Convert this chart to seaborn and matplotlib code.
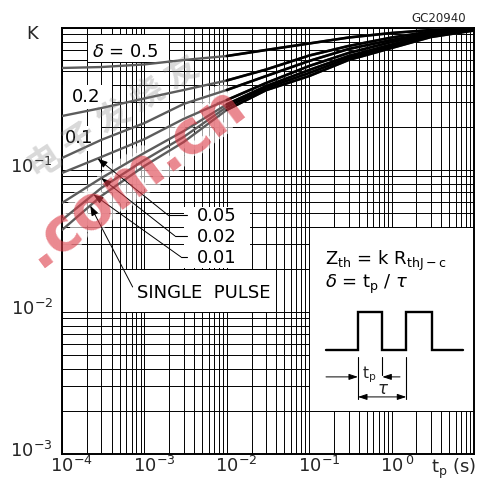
import numpy as np
import pandas as pd
import matplotlib
matplotlib.use("Agg")
import matplotlib.pyplot as plt
import matplotlib.patheffects as pe
from matplotlib.patches import Rectangle
from matplotlib.ticker import LogLocator, NullFormatter
import seaborn as sns

# Pulse duration t_p (s)
t_p = [1e-4, 3e-4, 1e-3, 3e-3, 1e-2, 3e-2, 1e-1, 3e-1, 1.0, 3.0, 10.0]

# K = Zth / RthJ-c for each duty cycle delta
k_delta_05 = [0.523, 0.531, 0.554, 0.595, 0.635, 0.700, 0.778, 0.857, 0.922, 0.968, 1.000]
k_delta_02 = [0.240, 0.273, 0.319, 0.366, 0.427, 0.510, 0.640, 0.747, 0.857, 0.945, 0.990]
k_delta_01 = [0.1215, 0.163, 0.214, 0.292, 0.366, 0.459, 0.586, 0.711, 0.823, 0.922, 0.984]
k_delta_005 = [0.0953, 0.1235, 0.165, 0.229, 0.311, 0.410, 0.540, 0.667, 0.797, 0.907, 0.984]
k_delta_002 = [0.0586, 0.0878, 0.132, 0.188, 0.290, 0.390, 0.506, 0.635, 0.765, 0.893, 0.976]
k_delta_001 = [0.0445, 0.0747, 0.1175, 0.171, 0.278, 0.378, 0.482, 0.615, 0.747, 0.878, 0.968]
k_single = [0.0378, 0.0656, 0.1067, 0.1575, 0.265, 0.365, 0.459, 0.595, 0.723, 0.864, 0.960]

curve_names = ["0.5", "0.2", "0.1", "0.05", "0.02", "0.01", "SINGLE PULSE"]
curve_values = [k_delta_05, k_delta_02, k_delta_01, k_delta_005,
                k_delta_002, k_delta_001, k_single]

x_tick_values = [1e-4, 1e-3, 1e-2, 1e-1, 1e0]
x_tick_labels = [r"$\mathregular{10^{-4}}$", r"$\mathregular{10^{-3}}$",
                 r"$\mathregular{10^{-2}}$", r"$\mathregular{10^{-1}}$",
                 r"$\mathregular{10^{\,0}}$"]
y_tick_values = [1e-3, 1e-2, 1e-1]
y_tick_labels = [r"$\mathregular{10^{-3}}$", r"$\mathregular{10^{-2}}$",
                 r"$\mathregular{10^{-1}}$"]

sns.set_theme(style="white")
plt.rcParams["font.family"] = ["DejaVu Sans"]
plt.rcParams["mathtext.fontset"] = "dejavusans"

df = pd.DataFrame({
    "t": np.tile(t_p, len(curve_names)),
    "K": np.concatenate(curve_values),
    "curve": np.repeat(curve_names, len(t_p)),
})

W, H = 486, 484
fig = plt.figure(figsize=(W / 100, H / 100), dpi=100)
fig.patch.set_facecolor("white")
ax = fig.add_axes([62 / W, 30 / H, 412 / W, 426 / H])
ax.set_xscale("log")
ax.set_yscale("log")
ax.set_xlim(1e-4, 10)
ax.set_ylim(1e-3, 1)

# full log grid, decades and 2..9 subdivisions
for axis in (ax.xaxis, ax.yaxis):
    axis.set_major_locator(LogLocator(base=10, numticks=20))
    axis.set_minor_locator(LogLocator(base=10, subs=np.arange(2, 10), numticks=100))
    axis.set_minor_formatter(NullFormatter())
ax.set_axisbelow(True)
ax.grid(which="both", color="black", lw=0.7)
ax.tick_params(which="both", length=0, labelbottom=False, labelleft=False)
for s in ax.spines.values():
    s.set_color("black")
    s.set_linewidth(1.4)

# white label panels cut out of the grid
panels = [
    ((2e-4, 0.58), (2e-3, 0.9), True),
    ((1e-4, 0.27), (4e-4, 0.4), False),
    ((1e-4, 0.135), (3e-4, 0.205), False),
    ((3.05e-3, 0.0205), (1.9e-2, 0.055), False),
    ((5e-4, 1e-2), (4e-2, 2e-2), True),
    ((1e-1, 2e-3), (10, 4e-2), True),
]
for (x0, y0), (x1, y1), edged in panels:
    ax.add_patch(Rectangle((x0, y0), x1 - x0, y1 - y0, facecolor="white",
                           edgecolor="black" if edged else "none",
                           lw=0.7, zorder=1))

# curves: grey on the short-pulse side, black towards saturation
gray_pal = {n: "#5c5c5c" for n in curve_names}
black_pal = {n: "black" for n in curve_names}
sns.lineplot(data=df, x="t", y="K", hue="curve", palette=gray_pal,
             estimator=None, sort=False, lw=1.7, legend=False, ax=ax, zorder=3)
sns.lineplot(data=df[df["t"] >= 1e-2], x="t", y="K", hue="curve",
             palette=black_pal, estimator=None, sort=False, lw=1.9,
             legend=False, ax=ax, zorder=3.1)
ax.set_xlabel("")
ax.set_ylabel("")


def k_at(values, t):
    return 10 ** np.interp(np.log10(t), np.log10(t_p), np.log10(values))


txt = dict(fontsize=13, color="black", zorder=6)
ax.text(5.8e-4, 0.675, r"$\delta$ = 0.5", ha="center", va="center", **txt)
ax.text(1.95e-4, 0.329, "0.2", ha="center", va="center", **txt)
ax.text(1.6e-4, 0.168, "0.1", ha="center", va="center", **txt)

# leaders for the small duty cycles
leaders = [
    (k_delta_005, 2.7e-4, 1.93e-3, 0.0482, "0.05", 0.0474),
    (k_delta_002, 3.0e-4, 2.35e-3, 0.0343, "0.02", 0.0337),
    (k_delta_001, 2.4e-4, 2.78e-3, 0.0244, "0.01", 0.0241),
]
for vals, t_tip, t_elb, k_elb, lab, k_lab in leaders:
    ax.annotate("", xy=(t_tip, k_at(vals, t_tip)), xytext=(t_elb, k_elb),
                arrowprops=dict(arrowstyle="-|>,head_length=0.5,head_width=0.18",
                                lw=0.7, color="black", shrinkA=0, shrinkB=0),
                zorder=5)
    ax.plot([t_elb, 3.3e-3], [k_elb, k_elb], color="black", lw=0.8, zorder=5)
    ax.text(4.3e-3, k_lab, lab, ha="left", va="center", **txt)

ax.annotate("", xy=(2.2e-4, k_at(k_single, 2.2e-4)), xytext=(7.2e-4, 0.0150),
            arrowprops=dict(arrowstyle="-|>,head_length=0.5,head_width=0.18",
                            lw=0.7, color="black", shrinkA=0, shrinkB=0),
            zorder=5)
ax.text(8.1e-4, 0.0136, "SINGLE  PULSE", ha="left", va="center", **txt)

# formula and pulse train sketch
ax.text(0.638, 0.454, r"$\mathregular{Z_{th}}$ = k $\mathregular{R_{thJ-c}}$",
        transform=ax.transAxes, ha="left", va="center", **txt)
ax.text(0.638, 0.397, r"$\delta$ = $\mathregular{t_p}$ / $\tau$",
        transform=ax.transAxes, ha="left", va="center", **txt)
b, top = 0.2434, 0.3333
xs = [0.6415, 0.7184, 0.7184, 0.7774, 0.7774, 0.8357, 0.8357, 0.8988, 0.8988, 0.9733]
ys = [b, b, top, top, b, b, top, top, b, b]
ax.plot(xs, ys, transform=ax.transAxes, color="black", lw=1.7, zorder=5,
        solid_joinstyle="miter")
for xv, y1 in [(0.7184, 0.129), (0.7774, 0.185), (0.8357, 0.129)]:
    ax.plot([xv, xv], [0.228, y1], transform=ax.transAxes, color="black",
            lw=0.8, zorder=5)
arr = dict(arrowstyle="-|>,head_length=0.45,head_width=0.15", lw=0.7,
           color="black", shrinkA=0, shrinkB=0)
ax.annotate("", xy=(0.7184, 0.181), xytext=(0.6408, 0.181),
            xycoords="axes fraction", textcoords="axes fraction", arrowprops=arr)
ax.annotate("", xy=(0.7774, 0.181), xytext=(0.8204, 0.181),
            xycoords="axes fraction", textcoords="axes fraction", arrowprops=arr)
ax.annotate("", xy=(0.7184, 0.134), xytext=(0.8357, 0.134),
            xycoords="axes fraction", textcoords="axes fraction",
            arrowprops=dict(arrowstyle="<|-|>,head_length=0.45,head_width=0.15",
                            lw=0.7, color="black", shrinkA=0, shrinkB=0))
ax.text(0.745, 0.185, r"$\mathregular{t_p}$", transform=ax.transAxes,
        ha="center", va="center", fontsize=11, zorder=6)
ax.text(0.779, 0.152, r"$\tau$", transform=ax.transAxes,
        ha="center", va="center", fontsize=12, zorder=6)

# axis numbering
for v, lab in zip(x_tick_values, x_tick_labels):
    ax.annotate(lab, xy=(v, 0), xycoords=ax.get_xaxis_transform(),
                xytext=(-11.5, -2), textcoords="offset pixels",
                ha="left", va="top", fontsize=13, annotation_clip=False)
ax.annotate(r"$\mathregular{t_p}$ (s)", xy=(10, 0), xycoords=ax.get_xaxis_transform(),
            xytext=(2, -3), textcoords="offset pixels", ha="right", va="top",
            fontsize=13, annotation_clip=False)
for v, lab in zip(y_tick_values, y_tick_labels):
    ax.annotate(lab, xy=(0, v), xycoords=ax.get_yaxis_transform(),
                xytext=(-9, -3), textcoords="offset pixels",
                ha="right", va="baseline", fontsize=13, annotation_clip=False)
fig.text(32 / W, 1 - 34 / H, "K", ha="center", va="center", fontsize=13)
fig.text(466 / W, 1 - 19 / H, "GC20940", ha="right", va="center", fontsize=8.5)

# site watermark
wm = dict(transform=fig.transFigure, ha="center", va="center", clip_on=False)
ax.text(134 / W, 1 - 176 / H, ".com.cn", fontsize=43, fontweight="bold",
        rotation=37, color="white", alpha=0.6, zorder=2,
        path_effects=[pe.withStroke(linewidth=9, foreground="white")], **wm)
ax.text(134 / W, 1 - 176 / H, ".com.cn", fontsize=43, fontweight="bold",
        rotation=37, color="#dc3a46", alpha=0.6, zorder=10, **wm)
ax.text(114 / W, 1 - 118 / H, "电 子 发 烧 友", fontsize=24, fontweight="bold",
        rotation=33, color="#808080", alpha=0.3, zorder=10,
        family=["Noto Sans CJK SC", "DejaVu Sans"], **wm)

fig.savefig("out.png", dpi=100, facecolor="white")
